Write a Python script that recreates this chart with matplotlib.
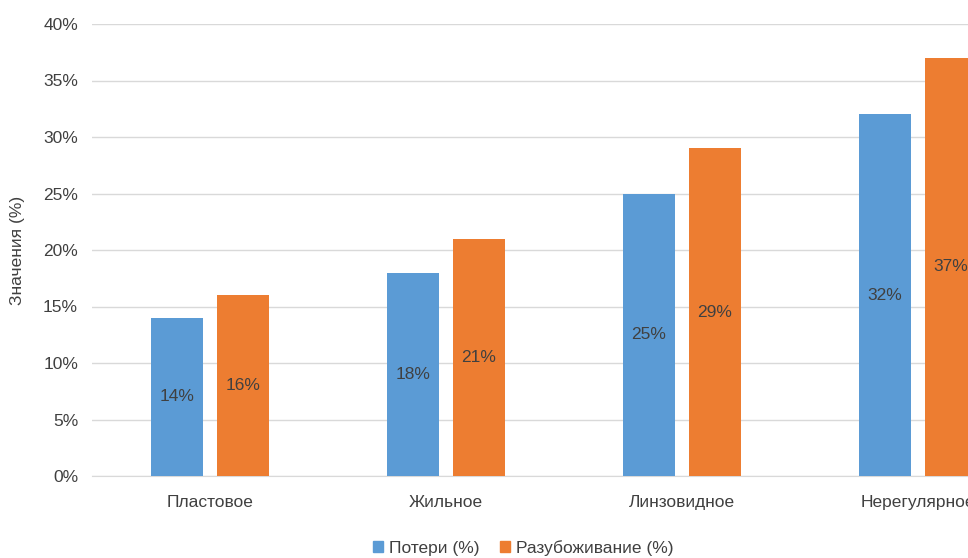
import matplotlib
matplotlib.use("Agg")
import matplotlib.pyplot as plt
import numpy as np
from matplotlib import font_manager

names = {f.name for f in font_manager.fontManager.ttflist}
font = "Liberation Sans Narrow" if "Liberation Sans Narrow" in names else "Liberation Sans"
plt.rcParams["font.family"] = [font, "DejaVu Sans"]

categories = ["Пластовое", "Жильное", "Линзовидное", "Нерегулярное"]
losses = [14, 18, 25, 32]
dilution = [16, 21, 29, 37]
series_names = ["Потери (%)", "Разубоживание (%)"]
yticks = [0, 5, 10, 15, 20, 25, 30, 35, 40]

blue = "#5B9BD5"
orange = "#ED7D31"
text_c = "#404040"

fig = plt.figure(figsize=(9.68, 5.58), dpi=100)
ax = fig.add_axes([92 / 968, 82 / 558, 944 / 968, 452 / 558])

x = np.arange(len(categories))
w = 0.22
off = 0.14
b1 = ax.bar(x - off, losses, w, color=blue, label=series_names[0], zorder=3)
b2 = ax.bar(x + off, dilution, w, color=orange, label=series_names[1], zorder=3)

for bars, vals in ((b1, losses), (b2, dilution)):
    for r, v in zip(bars, vals):
        ax.text(r.get_x() + r.get_width() / 2, v / 2, f"{v}%", ha="center", va="center",
                fontsize=12.5, color=text_c, zorder=4)

ax.set_xlim(-0.5, 3.5)
ax.set_ylim(0, 40)
ax.set_yticks(yticks)
ax.set_yticklabels([f"{t}%" for t in yticks], fontsize=12.5, color=text_c)
ax.set_xticks(x)
ax.set_xticklabels(categories, fontsize=12.5, color=text_c)
ax.tick_params(axis="both", length=0)
ax.tick_params(axis="x", pad=14)
ax.tick_params(axis="y", pad=10)
ax.grid(axis="y", color="#d9d9d9", linewidth=1, zorder=0)
for s in ("top", "right", "left"):
    ax.spines[s].set_visible(False)
ax.spines["bottom"].set_color("#d9d9d9")

fig.text(18 / 968, 1 - 250 / 558, "Значения (%)", rotation=90, ha="center", va="center",
         fontsize=12.5, color=text_c)

handles = [plt.Rectangle((0, 0), 1, 1, color=blue), plt.Rectangle((0, 0), 1, 1, color=orange)]
fig.legend(handles, series_names, loc="center", bbox_to_anchor=(523 / 968, 1 - 548 / 558),
           ncol=2, frameon=False, fontsize=12.5, handlelength=0.6, handleheight=0.6,
           handletextpad=0.3, columnspacing=1.2, labelcolor=text_c)

fig.savefig("out.png", dpi=100)
